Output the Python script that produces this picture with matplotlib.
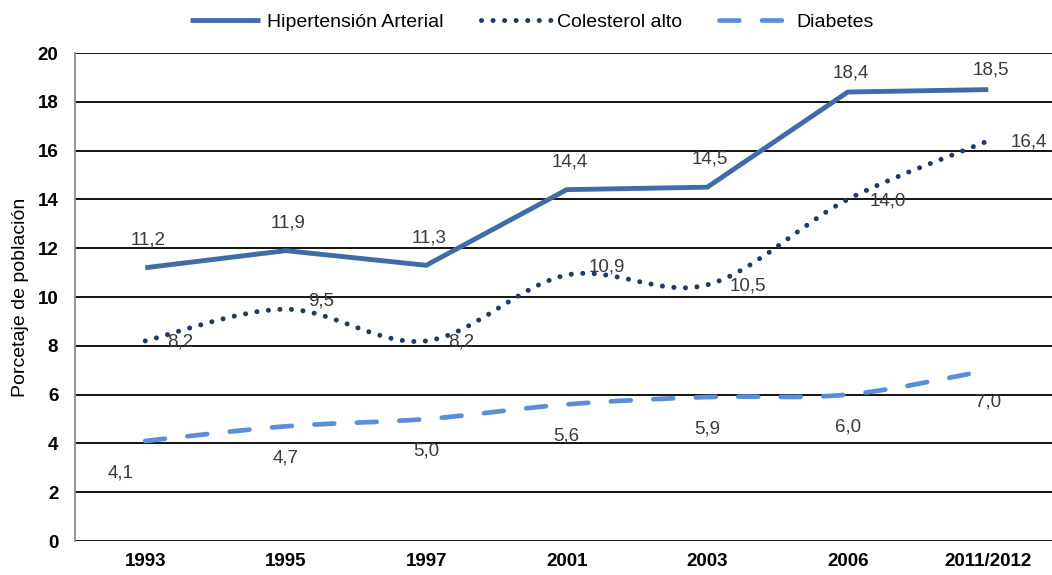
import matplotlib
matplotlib.use("Agg")
import matplotlib.pyplot as plt
from matplotlib.path import Path
from matplotlib.patches import PathPatch
from matplotlib.lines import Line2D

# ---------------------------------------------------------------------
# Data
# ---------------------------------------------------------------------
years = ["1993", "1995", "1997", "2001", "2003", "2006", "2011/2012"]
hipertension = [11.2, 11.9, 11.3, 14.4, 14.5, 18.4, 18.5]
colesterol = [8.2, 9.5, 8.2, 10.9, 10.5, 14.0, 16.4]
diabetes = [4.1, 4.7, 5.0, 5.6, 5.9, 6.0, 7.0]

C_HTA = "#3f6ca6"
C_COL = "#1f3a64"
C_DIA = "#5a8fd8"
C_LBL = "#3a3a3a"

DOTS = (0, (0.01, 2.3))
DASHES = (0, (4.2, 4.8))

plt.rcParams["font.family"] = ["Liberation Sans", "DejaVu Sans"]


def fmt(v):
    return f"{v:.1f}".replace(".", ",")


def smooth_path(xs, ys):
    # Catmull-Rom style bezier through the points (like Excel's smoothed line)
    pts = list(zip(xs, ys))
    verts = [pts[0]]
    codes = [Path.MOVETO]
    n = len(pts)
    for i in range(n - 1):
        p0 = pts[i - 1] if i > 0 else pts[i]
        p1 = pts[i]
        p2 = pts[i + 1]
        p3 = pts[i + 2] if i + 2 < n else pts[i + 1]
        c1 = (p1[0] + (p2[0] - p0[0]) / 6, p1[1] + (p2[1] - p0[1]) / 6)
        c2 = (p2[0] - (p3[0] - p1[0]) / 6, p2[1] - (p3[1] - p1[1]) / 6)
        verts += [c1, c2, p2]
        codes += [Path.CURVE4] * 3
    return Path(verts, codes)


fig = plt.figure(figsize=(10.52, 5.75), dpi=100)
ax = fig.add_axes([75 / 1052, 34 / 575, 983.5 / 1052, 488 / 575])

x = list(range(len(years)))

# Hipertension - straight segments
ax.plot(x, hipertension, color=C_HTA, lw=3.5, solid_capstyle="butt",
        solid_joinstyle="miter", zorder=4)

# Colesterol - smoothed, dotted
ax.add_patch(PathPatch(smooth_path(x, colesterol), facecolor="none",
                       edgecolor=C_COL, lw=3.6, linestyle=DOTS,
                       capstyle="round", transform=ax.transData, zorder=4))

# Diabetes - smoothed, dashed
ax.add_patch(PathPatch(smooth_path(x, diabetes), facecolor="none",
                       edgecolor=C_DIA, lw=3.4, linestyle=DASHES,
                       capstyle="round", transform=ax.transData, zorder=4))

# Data labels
for i, v in enumerate(hipertension):
    dy = 14 if v > 17 else 20
    ax.annotate(fmt(v), (i, v), xytext=(2, dy), textcoords="offset points",
                ha="center", va="center", fontsize=13.5, color=C_LBL)
for i, v in enumerate(colesterol):
    dy = 6 if i in (1, 3) else -1
    ax.annotate(fmt(v), (i, v), xytext=(16, dy), textcoords="offset points",
                ha="left", va="center", fontsize=13.5, color=C_LBL)
for i, v in enumerate(diabetes):
    dx = -18 if i == 0 else 0
    ax.annotate(fmt(v), (i, v), xytext=(dx, -23), textcoords="offset points",
                ha="center", va="center", fontsize=13.5, color=C_LBL)

# Axes styling
ax.set_xlim(-0.5, len(years) - 0.5)
ax.set_ylim(0, 20)
ax.set_yticks(range(0, 21, 2))
ax.set_xticks(x)
ax.set_xticklabels(years)
ax.grid(axis="y", color="black", lw=1.3, zorder=1)
ax.set_axisbelow(True)
for s in ["top", "right", "bottom"]:
    ax.spines[s].set_visible(False)
ax.spines["left"].set_color("#8c8c8c")
ax.spines["left"].set_linewidth(1.3)
ax.tick_params(axis="both", length=0, labelsize=13.5)
ax.tick_params(axis="x", pad=9)
ax.tick_params(axis="y", pad=12)
for lab in ax.get_xticklabels() + ax.get_yticklabels():
    lab.set_fontweight("bold")
ax.set_ylabel("Porcetaje de población", fontsize=14, labelpad=6)

# Legend
handles = [
    Line2D([0], [0], color=C_HTA, lw=3.5, solid_capstyle="butt"),
    Line2D([0], [0], color=C_COL, lw=3.6, linestyle=DOTS,
           dash_capstyle="round"),
    Line2D([0], [0], color=C_DIA, lw=3.4, linestyle=DASHES,
           dash_capstyle="round"),
]
fig.legend(handles, ["Hipertensión Arterial", "Colesterol alto", "Diabetes"],
           loc="center", bbox_to_anchor=(532 / 1052, 1 - 22 / 575), ncol=3,
           frameon=False, fontsize=14, handlelength=3.6, handletextpad=0.35,
           columnspacing=1.9)

fig.savefig("out.png", dpi=100)
